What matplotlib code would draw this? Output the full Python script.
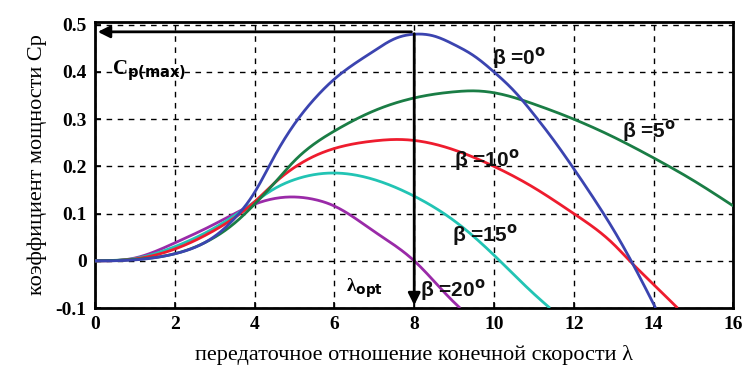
import matplotlib
matplotlib.use("Agg")
import matplotlib.pyplot as plt
import numpy as np

# data (tip speed ratio λ, power coefficient Cp)
lam_b0 = [0, 1, 2, 3, 3.5, 4, 4.5, 5, 5.5, 6, 7, 7.5, 8, 8.5, 9, 9.5, 10, 10.5, 11, 11.5, 12, 12.5, 13, 13.5, 14.05]
cp_b0 = [0, 0.002, 0.015, 0.052, 0.09, 0.145, 0.222, 0.29, 0.343, 0.385, 0.445, 0.47, 0.48, 0.476, 0.458, 0.434, 0.40, 0.36, 0.31, 0.255, 0.195, 0.132, 0.065, -0.01, -0.10]

lam_b5 = [0, 1, 2, 3, 3.5, 4, 4.5, 5, 5.5, 6, 7, 8, 9, 9.5, 10, 11, 12, 13, 14, 15, 16]
cp_b5 = [0, 0.003, 0.015, 0.05, 0.08, 0.12, 0.165, 0.212, 0.248, 0.275, 0.318, 0.345, 0.358, 0.36, 0.356, 0.332, 0.30, 0.262, 0.218, 0.17, 0.116]

lam_b10 = [0, 1, 2, 3, 4, 4.5, 5, 5.5, 6, 7, 7.5, 8, 9, 10, 11, 12, 13, 13.4, 14, 14.6]
cp_b10 = [0, 0.004, 0.025, 0.065, 0.125, 0.165, 0.198, 0.222, 0.238, 0.254, 0.257, 0.255, 0.235, 0.20, 0.155, 0.10, 0.035, 0.0, -0.05, -0.10]

lam_b15 = [0, 1, 2, 3, 4, 4.5, 5, 6, 7, 8, 9, 10, 11, 11.4]
cp_b15 = [0, 0.005, 0.03, 0.07, 0.125, 0.153, 0.172, 0.186, 0.172, 0.137, 0.085, 0.012, -0.07, -0.10]

lam_b20 = [0, 1, 2, 3, 4, 4.8, 5.5, 6, 7, 8, 9, 9.15]
cp_b20 = [0, 0.006, 0.038, 0.078, 0.12, 0.135, 0.13, 0.116, 0.062, 0.0, -0.088, -0.10]

xticks = [0, 2, 4, 6, 8, 10, 12, 14, 16]
yticks = [-0.1, 0, 0.1, 0.2, 0.3, 0.4, 0.5]
ytick_labels = ["-0.1", "0", "0.1", "0.2", "0.3", "0.4", "0.5"]


def natural_spline(xs, ys, per=25):
    x = np.asarray(xs, float); y = np.asarray(ys, float)
    n = len(x)
    h = np.diff(x)
    A = np.zeros((n, n)); r = np.zeros(n)
    A[0, 0] = 1; A[-1, -1] = 1
    for i in range(1, n - 1):
        A[i, i - 1] = h[i - 1]
        A[i, i] = 2 * (h[i - 1] + h[i])
        A[i, i + 1] = h[i]
        r[i] = 3 * ((y[i + 1] - y[i]) / h[i] - (y[i] - y[i - 1]) / h[i - 1])
    c = np.linalg.solve(A, r)
    ox, oy = [], []
    for i in range(n - 1):
        b = (y[i + 1] - y[i]) / h[i] - h[i] * (2 * c[i] + c[i + 1]) / 3
        d = (c[i + 1] - c[i]) / (3 * h[i])
        t = np.linspace(0, h[i], per, endpoint=False)
        ox.extend(x[i] + t)
        oy.extend(y[i] + b * t + c[i] * t ** 2 + d * t ** 3)
    ox.append(x[-1]); oy.append(y[-1])
    return ox, oy


fig = plt.figure(figsize=(7.45, 3.78), dpi=100)
ax = fig.add_axes([0.1275, 0.185, 0.857, 0.757])

series = [
    (lam_b20, cp_b20, "#9a2aa8"),
    (lam_b15, cp_b15, "#22c4b4"),
    (lam_b10, cp_b10, "#ee1c2e"),
    (lam_b5, cp_b5, "#1a7d45"),
    (lam_b0, cp_b0, "#3b44b0"),
]
for xs, ys, c in series:
    sx, sy = natural_spline(xs, ys)
    ax.plot(sx, sy, color=c, lw=2.0, zorder=3, solid_capstyle="butt")

ax.set_xlim(0, 16)
ax.set_ylim(-0.1, 0.506)
ax.set_xticks(xticks)
ax.set_yticks(yticks)
ax.set_yticklabels(ytick_labels)
ax.grid(True, color="black", linestyle=(0, (4, 4)), lw=1.0)
for s in ax.spines.values():
    s.set_linewidth(2.0)
ax.tick_params(direction="in", length=4, width=1.2, labelsize=14, pad=6)
for lbl in ax.get_xticklabels() + ax.get_yticklabels():
    lbl.set_fontfamily("Liberation Serif")
    lbl.set_fontweight("bold")

ax.set_xlabel("передаточное отношение конечной скорости λ", family="Liberation Serif", fontsize=16, labelpad=8)
ax.set_ylabel("коэффициент мощности Ср", family="Liberation Serif", fontsize=16, labelpad=6)

# arrows
ax.annotate("", xy=(0.0, 0.485), xytext=(8.0, 0.485),
            arrowprops=dict(arrowstyle="-|>", color="black", lw=2, mutation_scale=18), zorder=5)
ax.annotate("", xy=(8.0, -0.1), xytext=(8.0, 0.487),
            arrowprops=dict(arrowstyle="-|>", color="black", lw=2, mutation_scale=18), zorder=5)

ax.text(0.43, 0.395, r"C$_{\mathbf{p(max)}}$", family="Liberation Serif", fontsize=15, fontweight="bold")
ax.text(6.3, -0.066, r"λ$_{\mathbf{opt}}$", family="Liberation Serif", fontsize=14, fontweight="bold")

lab_kw = dict(family="Liberation Sans", fontsize=15, fontweight="bold", color="#111111")
ax.text(9.95, 0.415, r"β =0$^{\mathbf{o}}$", **lab_kw)
ax.text(13.2, 0.262, r"β =5$^{\mathbf{o}}$", **lab_kw)
ax.text(9.0, 0.2, r"β =10$^{\mathbf{o}}$", **lab_kw)
ax.text(8.95, 0.042, r"β =15$^{\mathbf{o}}$", **lab_kw)
ax.text(8.15, -0.075, r"β =20$^{\mathbf{o}}$", **lab_kw)

fig.savefig("out.png", dpi=100)
